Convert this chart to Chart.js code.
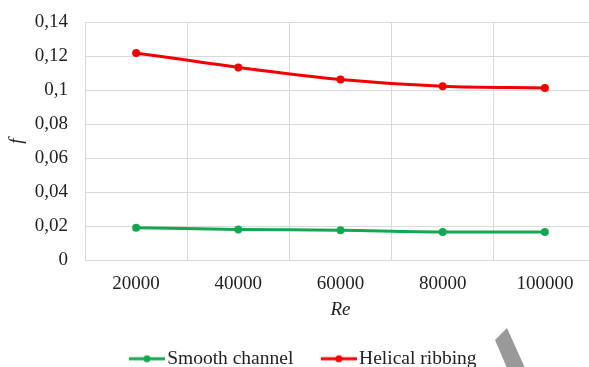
<!DOCTYPE html>
<html>
<head>
<meta charset="utf-8">
<script src="https://cdn.jsdelivr.net/npm/chart.js@4"></script>
<style>
  html, body { margin: 0; padding: 0; background: #fff; overflow: hidden; }
  #wrap { width: 600px; height: 367px; }
</style>
</head>
<body>
<div id="wrap"><canvas id="c" width="600" height="367"></canvas></div>
<script>
// Reynolds numbers along the x axis
const reynolds = ['20000', '40000', '60000', '80000', '100000'];
// Friction factor f for each channel type
const smoothChannel = [0.0190, 0.0180, 0.0175, 0.0165, 0.0165];
const helicalRibbing = [0.1218, 0.1133, 0.1062, 0.1022, 0.1012];
// y axis ticks
const yTicks = [0, 0.02, 0.04, 0.06, 0.08, 0.1, 0.12, 0.14];

const GREEN = '#13a850';
const RED = '#f20000';
const GRID = '#d9d9d9';
const TEXT = '#222';
const FONT = 'Liberation Serif, Times New Roman, serif';

// legend marker: short line with a dot in the middle (transparent lead-in on the left)
function legendMarker(color) {
  const cv = document.createElement('canvas');
  cv.width = 43; cv.height = 10;
  const g = cv.getContext('2d');
  g.strokeStyle = color; g.lineWidth = 3;
  g.beginPath(); g.moveTo(7, 5); g.lineTo(43, 5); g.stroke();
  g.fillStyle = color;
  g.beginPath(); g.arc(25, 5, 3.5, 0, Math.PI * 2); g.fill();
  return cv;
}

// grey diagonal stroke at the lower right corner
const cornerMark = {
  id: 'cornerMark',
  afterDraw(chart) {
    const ctx = chart.ctx;
    ctx.save();
    ctx.fillStyle = '#999999';
    ctx.beginPath();
    ctx.moveTo(495, 340);
    ctx.lineTo(507, 328);
    ctx.lineTo(525, 368);
    ctx.lineTo(507, 368);
    ctx.closePath();
    ctx.fill();
    ctx.restore();
  }
};

// nudge the legend row a little to the right
const legendShift = {
  id: 'legendShift',
  afterLayout(chart) {
    if (chart.legend) { chart.legend.left += 3; chart.legend.right += 3; }
  }
};

const markers = [legendMarker(GREEN), legendMarker(RED)];

new Chart(document.getElementById('c'), {
  type: 'line',
  data: {
    labels: reynolds,
    datasets: [
      {
        label: 'Smooth channel',
        data: smoothChannel,
        borderColor: GREEN,
        backgroundColor: GREEN,
        borderWidth: 3,
        pointRadius: 4,
        pointHoverRadius: 4,
        pointBorderWidth: 0,
        cubicInterpolationMode: 'monotone'
      },
      {
        label: 'Helical ribbing',
        data: helicalRibbing,
        borderColor: RED,
        backgroundColor: RED,
        borderWidth: 3,
        pointRadius: 4,
        pointHoverRadius: 4,
        pointBorderWidth: 0,
        cubicInterpolationMode: 'monotone'
      }
    ]
  },
  options: {
    responsive: false,
    animation: false,
    layout: { padding: { top: 22, left: 0, right: 0, bottom: 0 } },
    scales: {
      x: {
        type: 'category',
        offset: true,
        afterFit(scale) { scale.height = 61; scale.paddingLeft = 0; scale.paddingRight = 0; },
        grid: { offset: true, color: GRID, lineWidth: 1, drawTicks: false },
        border: { color: GRID, width: 1 },
        ticks: { color: TEXT, padding: 13, font: { family: FONT, size: 19 } },
        title: {
          display: true, text: 'Re', color: TEXT,
          font: { family: FONT, size: 19, style: 'italic' },
          padding: { top: 4, bottom: 0 }
        }
      },
      y: {
        min: 0, max: 0.14,
        afterFit(scale) { scale.width = 85; scale.paddingTop = 0; scale.paddingBottom = 0; },
        afterBuildTicks(scale) { scale.ticks = yTicks.map(v => ({ value: v })); },
        grid: { color: GRID, lineWidth: 1, drawTicks: false },
        border: { color: GRID, width: 1 },
        ticks: {
          color: TEXT, padding: 17,
          font: { family: FONT, size: 19 },
          callback: v => String(Math.round(v * 100) / 100).replace('.', ',')
        },
        title: {
          display: true, text: 'f', color: TEXT,
          font: { family: FONT, size: 19, style: 'italic' },
          padding: { top: 6, bottom: 0 }
        }
      }
    },
    plugins: {
      tooltip: { enabled: false },
      legend: {
        position: 'bottom',
        maxHeight: 46,
        labels: {
          color: TEXT,
          font: { family: FONT, size: 19.5 },
          usePointStyle: true,
          pointStyleWidth: 28,
          padding: 28,
          generateLabels(chart) {
            return chart.data.datasets.map((ds, i) => ({
              text: ds.label,
              pointStyle: markers[i],
              fillStyle: ds.borderColor,
              strokeStyle: ds.borderColor,
              lineWidth: 0,
              fontColor: TEXT,
              datasetIndex: i,
              hidden: false
            }));
          }
        }
      }
    }
  },
  plugins: [cornerMark, legendShift]
});
</script>
</body>
</html>
